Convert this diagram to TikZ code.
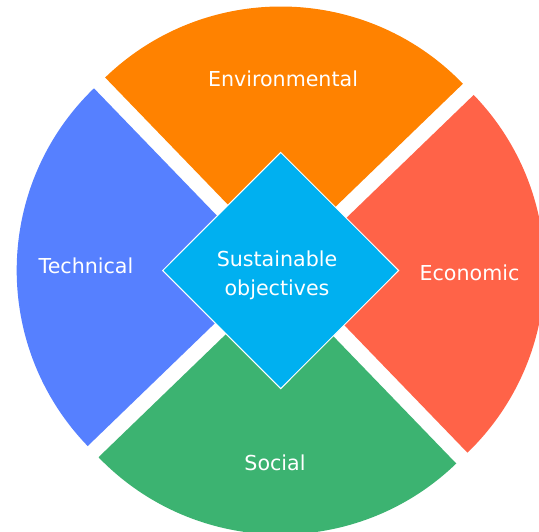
\documentclass[tikz,border=0pt]{standalone}
\usepackage{fontspec}
\setmainfont{DejaVu Sans}
\usetikzlibrary{calc,shapes.geometric}
\definecolor{envcol}{RGB}{255,130,0}
\definecolor{ecocol}{RGB}{255,99,72}
\definecolor{soccol}{RGB}{60,179,113}
\definecolor{teccol}{RGB}{86,128,255}
\definecolor{objcol}{RGB}{0,176,240}
\tikzset{
  lbl/.style={text=white, font=\fontsize{20.6}{29}\selectfont, inner sep=0pt},
  core/.style={shape=diamond, fill=objcol, draw=white, line width=1pt,
    minimum width=236.4pt, minimum height=236.6pt, inner sep=0pt},
}
\begin{document}
\begin{tikzpicture}[x=1pt,y=1pt]
\fill[white] (0,0) rectangle (539,-531);
\useasboundingbox (0,0) rectangle (539,-531);
\clip (0,0) rectangle (539,-531);
\coordinate (O) at (280.7,-270.5);
\def\rr{253}
\def\dd{11}
% sectors (exploded quarter wedges, rotated by -1 degree)
\coordinate (ao) at ($(O)+(89:\dd)$);
\coordinate (ab) at ($(O)+(179:\dd)$);
\coordinate (ag) at ($(O)+(269:\dd)$);
\coordinate (ar) at ($(O)+(-1:\dd)$);
\fill[envcol] (ao) -- ++(44:\rr) arc[start angle=44, end angle=134, radius=\rr] -- cycle;
\fill[teccol] (ab) -- ++(134:\rr) arc[start angle=134, end angle=224, radius=\rr] -- cycle;
\fill[soccol] (ag) -- ++(224:\rr) arc[start angle=224, end angle=314, radius=\rr] -- cycle;
\fill[ecocol] (ar) -- ++(-46:\rr) arc[start angle=-46, end angle=44, radius=\rr] -- cycle;
% centre diamond
\node[core] (dia) at (O) {};
\node[lbl, align=center] (obj) at (277,-275) {Sustainable\\objectives};
% labels
\node[lbl, anchor=base] (env) at (283,-86) {Environmental};
\node[lbl, anchor=base] (tec) at (86,-273.3) {Technical};
\node[lbl, anchor=base] (eco) at (469.5,-280) {Economic};
\node[lbl, anchor=base] (soc) at (275,-470) {Social};
\end{tikzpicture}
\end{document}
